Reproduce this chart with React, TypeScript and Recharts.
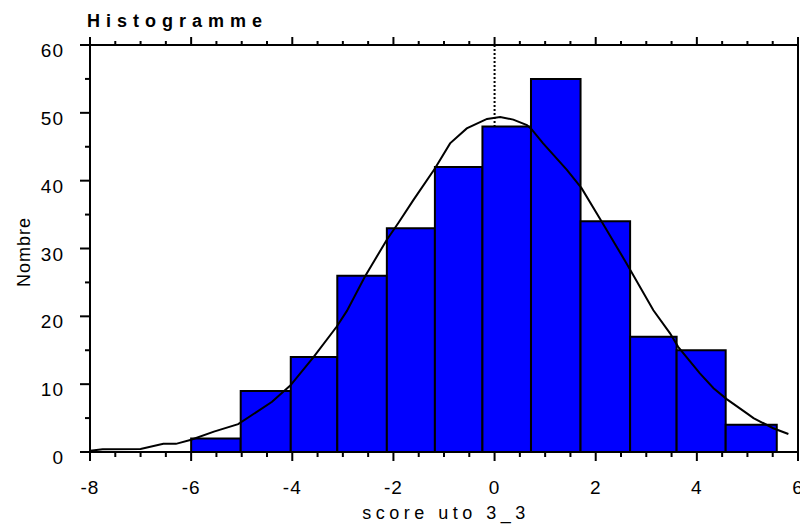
import { ComposedChart, Line, XAxis, YAxis, ReferenceArea, ReferenceLine } from "recharts";

// histogram bins (edges) and counts
const binEdges = [-6, -5.02, -4.03, -3.11, -2.13, -1.18, -0.24, 0.72, 1.7, 2.68, 3.6, 4.57, 5.58];
const binCounts = [2, 9, 14, 26, 33, 42, 48, 55, 34, 17, 15, 4];

// fitted normal curve, as drawn (polyline)
const curveX = [
  -8, -7.75, -7.0, -6.55, -6.3, -6.0, -5.55, -5.07, -4.4, -4.04, -3.58, -3.12, -2.92, -2.56, -2.13,
  -1.9, -1.6, -1.18, -0.88, -0.55, -0.15, 0.11, 0.37, 0.64, 0.73, 0.96, 1.43, 1.72, 2.09, 2.61,
  3.14, 3.47, 3.63, 4.06, 4.33, 4.59, 4.99, 5.12, 5.51, 5.81,
];
const curveY = [
  0.2, 0.4, 0.45, 1.2, 1.2, 1.8, 3.0, 4.1, 7.4, 9.8, 14.0, 18.5, 20.8, 25.9, 31.3,
  33.8, 37.2, 41.8, 45.5, 47.7, 49.1, 49.4, 49.0, 48.2, 47.6, 45.5, 41.6, 38.9, 34.3, 27.8,
  20.9, 17.5, 15.5, 11.6, 9.4, 7.8, 5.7, 5.0, 3.5, 2.65,
];

const xTicks = [
  -8, -7.5, -7, -6.5, -6, -5.5, -5, -4.5, -4, -3.5, -3, -2.5, -2, -1.5, -1, -0.5, 0,
  0.5, 1, 1.5, 2, 2.5, 3, 3.5, 4, 4.5, 5, 5.5, 6,
];
const xMajor = [-8, -6, -4, -2, 0, 2, 4, 6];
const yTicks = [0, 5, 10, 15, 20, 25, 30, 35, 40, 45, 50, 55, 60];
const yMajor = [0, 10, 20, 30, 40, 50, 60];

const curveData = curveX.map((x, i) => ({ x, y: curveY[i] }));

const FONT = '"Liberation Sans", Arial, sans-serif';

const BottomTick = (props: any) => {
  const { x, y, payload } = props;
  const major = xMajor.includes(payload.value);
  return (
    <g>
      <line x1={x} y1={y} x2={x} y2={y + (major ? 9 : 5)} stroke="#000" strokeWidth={2} />
      {major && (
        <text x={x} y={y + 42} textAnchor="middle" fontSize={19} fontFamily={FONT} letterSpacing={1} fill="#000">
          {payload.value}
        </text>
      )}
    </g>
  );
};

const TopTick = (props: any) => {
  const { x, y, payload } = props;
  const major = xMajor.includes(payload.value);
  return <line x1={x} y1={y} x2={x} y2={y - (major ? 8 : 4)} stroke="#000" strokeWidth={2} />;
};

const LeftTick = (props: any) => {
  const { x, y, payload } = props;
  const major = yMajor.includes(payload.value);
  return (
    <g>
      <line x1={x - (major ? 10 : 5)} y1={y} x2={x} y2={y} stroke="#000" strokeWidth={2} />
      {major && (
        <text x={x - 26} y={y + 12} textAnchor="end" fontSize={19} fontFamily={FONT} letterSpacing={1} fill="#000">
          {payload.value}
        </text>
      )}
    </g>
  );
};

export default function App() {
  return (
    <div style={{ position: "absolute", left: 0, top: 0, background: "#fff", fontFamily: FONT }}>
      <ComposedChart width={800} height={524} data={curveData} margin={{ top: 37, right: 2, bottom: 0, left: 0 }}>
        <XAxis
          dataKey="x"
          type="number"
          domain={[-8, 6]}
          ticks={xTicks}
          interval={0}
          height={72}
          tickSize={0}
          tickMargin={0}
          tickLine={false}
          tick={BottomTick}
          axisLine={{ stroke: "#000", strokeWidth: 2 }}
          allowDataOverflow
        />
        <XAxis
          xAxisId="top"
          dataKey="x"
          orientation="top"
          type="number"
          domain={[-8, 6]}
          ticks={xTicks}
          interval={0}
          height={8}
          tickSize={0}
          tickMargin={0}
          tickLine={false}
          tick={TopTick}
          axisLine={{ stroke: "#000", strokeWidth: 2 }}
          allowDataOverflow
        />
        <YAxis
          type="number"
          domain={[0, 60]}
          ticks={yTicks}
          interval={0}
          width={90}
          tickSize={0}
          tickMargin={0}
          tickLine={false}
          tick={LeftTick}
          axisLine={{ stroke: "#000", strokeWidth: 2 }}
          allowDataOverflow
        />
        {binCounts.map((c, i) => (
          <ReferenceArea
            key={`bin-${i}`}
            x1={binEdges[i]}
            x2={binEdges[i + 1]}
            y1={0}
            y2={c}
            fill="#0000ff"
            fillOpacity={1}
            stroke="#000"
            strokeWidth={2}
          />
        ))}
        <ReferenceLine x={6} stroke="#000" strokeWidth={2} />
        <ReferenceLine
          segment={[
            { x: 0, y: 60 },
            { x: 0, y: 48 },
          ]}
          stroke="#000"
          strokeWidth={2}
          strokeDasharray="2 2"
        />
        <Line
          type="linear"
          dataKey="y"
          stroke="#000"
          strokeWidth={2}
          dot={false}
          activeDot={false}
          isAnimationActive={false}
        />
        <text x={87} y={27} fontSize={18} fontWeight="bold" fontFamily={FONT} letterSpacing={6} fill="#000">
          Histogramme
        </text>
        <text
          x={30}
          y={252}
          transform="rotate(-90 30 252)"
          textAnchor="middle"
          fontSize={18}
          fontFamily={FONT}
          letterSpacing={1}
          fill="#000"
        >
          Nombre
        </text>
        <text x={446} y={519} textAnchor="middle" fontSize={18} fontFamily={FONT} letterSpacing={4.5} fill="#000">
          score uto 3_3
        </text>
      </ComposedChart>
    </div>
  );
}
